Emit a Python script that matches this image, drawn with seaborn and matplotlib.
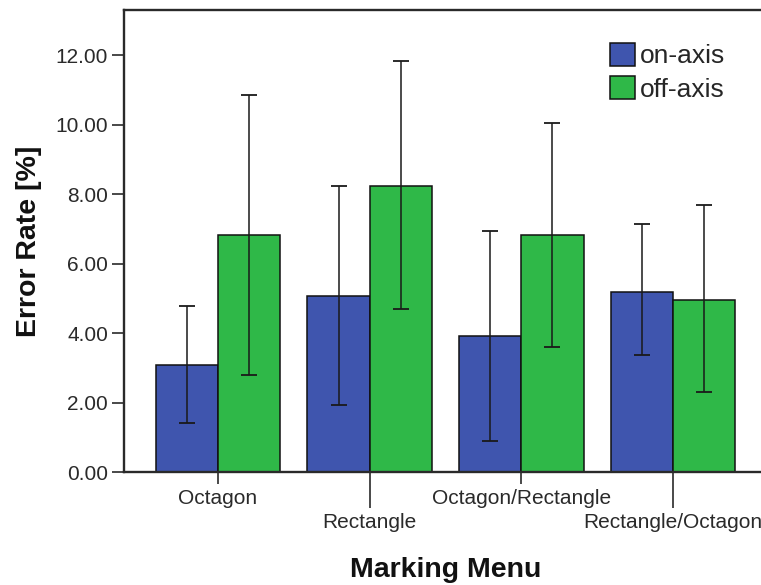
import matplotlib
matplotlib.use("Agg")
import matplotlib.pyplot as plt
from matplotlib.container import BarContainer
import seaborn as sns
import pandas as pd
import numpy as np
from matplotlib.ticker import FormatStrFormatter

# ---- data ----
menus = ["Octagon", "Rectangle", "Octagon/Rectangle", "Rectangle/Octagon"]
conditions = ["on-axis", "off-axis"]
on_axis_mean = [3.08, 5.06, 3.92, 5.19]
off_axis_mean = [6.82, 8.23, 6.82, 4.95]
on_axis_low = [1.40, 1.93, 0.89, 3.37]
on_axis_high = [4.78, 8.23, 6.94, 7.13]
off_axis_low = [2.79, 4.69, 3.61, 2.31]
off_axis_high = [10.85, 11.83, 10.05, 7.70]
y_ticks = [0, 2, 4, 6, 8, 10, 12]

df = pd.DataFrame({
    "Marking Menu": menus * 2,
    "Axis": [conditions[0]] * 4 + [conditions[1]] * 4,
    "Error Rate": on_axis_mean + off_axis_mean,
})

sns.set_theme(style="white")
plt.rcParams["font.family"] = ["Liberation Sans", "DejaVu Sans"]

W, H = 761, 585
fig = plt.figure(figsize=(W / 100, H / 100), dpi=100)
ax = fig.add_axes([124 / W, 1 - 472 / H, (767 - 124) / W, (472 - 10) / H])

blue = "#3F55AE"
green = "#2FB848"
sns.barplot(data=df, x="Marking Menu", y="Error Rate", hue="Axis",
            order=menus, hue_order=conditions, palette=[blue, green],
            width=0.82, errorbar=None, edgecolor="#111111", linewidth=1.1,
            saturation=1, ax=ax)

lows = [on_axis_low, off_axis_low]
highs = [on_axis_high, off_axis_high]
means = [on_axis_mean, off_axis_mean]
bar_conts = [c for c in ax.containers if isinstance(c, BarContainer)]
for ci, cont in enumerate(bar_conts):
    xs = [b.get_x() + b.get_width() / 2 for b in cont]
    m = np.array(means[ci])
    lo = m - np.array(lows[ci])
    hi = np.array(highs[ci]) - m
    ax.errorbar(xs, m, yerr=[lo, hi], fmt="none", ecolor="#1a1a1a",
                elinewidth=1.1, capsize=5.5, capthick=1.3, zorder=5)

ax.set_xlim(-0.62, 3.62)
ax.set_ylim(0, 13.3)
ax.set_yticks(y_ticks)
ax.yaxis.set_major_formatter(FormatStrFormatter("%.2f"))

# staggered category labels
ax.set_xticks([0, 2], labels=[menus[0], menus[2]])
ax.set_xticks([1, 3], labels=[menus[1], menus[3]], minor=True)
ax.tick_params(axis="x", which="major", length=8.6, width=1.2, pad=3.6,
               labelsize=15, colors="#2a2a2a", direction="out", bottom=True)
ax.tick_params(axis="x", which="minor", length=26, width=1.2, pad=3.6,
               labelsize=15, colors="#2a2a2a", direction="out", bottom=True)
ax.tick_params(axis="y", length=8.6, width=1.2, pad=3, labelsize=15,
               colors="#2a2a2a", direction="out", left=True)

for s in ax.spines.values():
    s.set_color("#2a2a2a")
    s.set_linewidth(1.7)

ax.set_xlabel("Marking Menu", fontsize=20.5, fontweight="bold", color="#111111")
ax.set_ylabel("Error Rate [%]", fontsize=20.5, fontweight="bold", color="#111111")
ax.xaxis.set_label_coords(0.5, -0.183)
ax.yaxis.set_label_coords(-0.128, 0.5)

handles, labels = ax.get_legend_handles_labels()
ax.legend(handles, labels, loc="upper left",
          bbox_to_anchor=(610 / W, 1 - 43 / H), bbox_transform=fig.transFigure,
          frameon=False, fontsize=19, handlelength=0.95, handleheight=0.95,
          handletextpad=0.2, labelspacing=0.3, borderpad=0, borderaxespad=0,
          title=None)

fig.savefig("out.png", dpi=100)
